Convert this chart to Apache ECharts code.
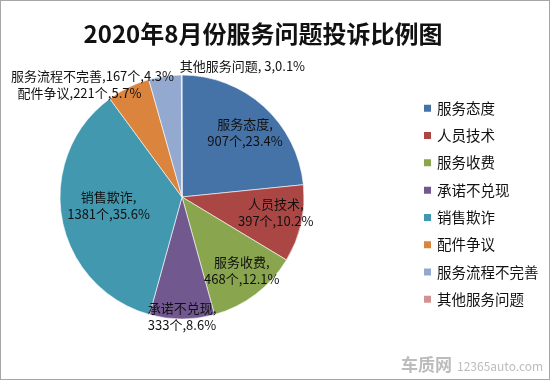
<!DOCTYPE html>
<html><head><meta charset="utf-8">
<script src="https://cdn.jsdelivr.net/npm/echarts@6/dist/echarts.min.js"></script>
<style>html,body{margin:0;padding:0;background:#fff}#c{width:548px;height:378px;border:1px solid #a6a6a6}</style>
</head><body><div id="c"></div>
<script>
const categories = ['服务态度','人员技术','服务收费','承诺不兑现','销售欺诈','配件争议','服务流程不完善','其他服务问题'];
const values = [907, 397, 468, 333, 1381, 221, 167, 3];
const percents = ['23.4%','10.2%','12.1%','8.6%','35.6%','5.7%','4.3%','0.1%'];
const units = ['个','个','个','个','个','个','个',''];
const outsideLabel = [false,false,false,false,false,true,true,true];
const colors = ['#4572A7','#AA4643','#89A54E','#71588F','#4198AF','#DB843D','#93A9CF','#D19392'];
const font = '"Noto Sans CJK SC", sans-serif';
// label fine tuning (offsets only)
const insideOffset = {0: [0, 5], 1: [2, -5], 2: [3, -1], 3: [0, 26], 4: [19, -8]};
const outsideShift = {5: {dx: 18, dy: 6}, 6: {dx: 14, dy: 0}, 7: {dx: 3, dy: -9, align: 'left'}};

const chart = echarts.init(document.getElementById('c'));
const mainData = categories.map((n, i) => ({
  name: n, value: values[i],
  label: outsideLabel[i] ? {
    show: true, position: 'outside', overflow: 'none',
    formatter: n + (i === 7 ? ', ' : ',') + values[i] + units[i] + ',' + percents[i]
  } : {show: false},
  labelLine: {show: false}
}));
const overlayData = categories.map((n, i) => ({
  name: n, value: values[i],
  label: outsideLabel[i] ? {show: false} : {
    show: true, position: 'inside',
    formatter: n + ',\n' + values[i] + units[i] + ',' + percents[i],
    offset: insideOffset[i] || [0,0]
  }
}));
chart.setOption({
  animation: false,
  color: colors,
  title: {
    text: '2020年8月份服务问题投诉比例图', left: 257, top: 16, textAlign: 'center',
    textStyle: {fontFamily: font, fontSize: 24, fontWeight: 'bold', color: '#111'}
  },
  legend: {
    orient: 'vertical', left: 421, top: 100, padding: 0, itemWidth: 9, itemHeight: 9, itemGap: 12.8,
    icon: 'rect', data: categories,
    textStyle: {fontFamily: font, fontSize: 14.5, color: '#111'}
  },
  graphic: [
    {type: 'text', left: 400, top: 355, style: {text: '车质网', font: 'bold 17px ' + font, fill: '#bcbcbc'}},
    {type: 'text', left: 456, top: 359, style: {text: '12365auto.com', font: '12px ' + font, fill: '#bcbcbc'}}
  ],
  series: [{
    type: 'pie', center: [181, 196], radius: [0, 122], startAngle: 90, clockwise: true,
    itemStyle: {borderColor: '#fff', borderWidth: 0.6},
    label: {fontFamily: font, fontSize: 13, color: '#111', overflow: 'none'},
    labelLine: {show: false, length: 0, length2: 0},
    avoidLabelOverlap: false,
    labelLayout: function (p) {
      const s = outsideShift[p.dataIndex];
      return s ? Object.assign({hideOverlap: false}, s) : {};
    },
    data: mainData
  }, {
    type: 'pie', center: [181, 196], radius: [60, 122], startAngle: 90, clockwise: true, silent: true,
    itemStyle: {color: 'rgba(0,0,0,0)', borderWidth: 0},
    label: {fontFamily: font, fontSize: 13, color: '#111', lineHeight: 17, align: 'center'},
    labelLine: {show: false},
    avoidLabelOverlap: false,
    data: overlayData, legendHoverLink: false
  }]
});
</script></body></html>
